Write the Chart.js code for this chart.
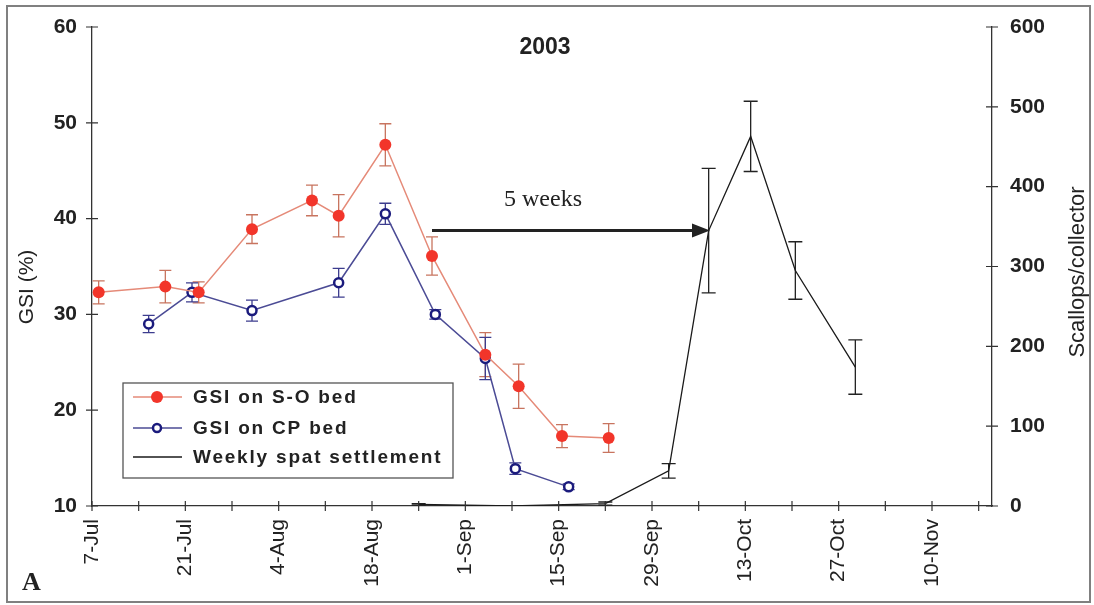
<!DOCTYPE html>
<html>
<head>
<meta charset="utf-8">
<script src="https://cdn.jsdelivr.net/npm/chart.js@4.4.1/dist/chart.umd.min.js"></script>
<style>
  html, body { margin: 0; padding: 0; background: #fff; }
  #wrap { width: 1094px; height: 605px; }
</style>
</head>
<body>
<div id="wrap"><canvas id="myChart"></canvas></div>
<script>
// x values are days counted from 7-Jul (2003)
const dateLabels = ['7-Jul', '21-Jul', '4-Aug', '18-Aug', '1-Sep', '15-Sep', '29-Sep', '13-Oct', '27-Oct', '10-Nov'];

const soDays = [1, 11, 16, 24, 33, 37, 44, 51, 59, 64, 70.5, 77.5];
const soGSI  = [32.3, 32.9, 32.3, 38.9, 41.9, 40.3, 47.7, 36.1, 25.8, 22.5, 17.3, 17.1];
const soErr  = [1.2, 1.7, 1.1, 1.5, 1.6, 2.2, 2.2, 2.0, 2.3, 2.3, 1.2, 1.5];

const cpDays = [8.5, 15, 24, 37, 44, 51.5, 59, 63.5, 71.5];
const cpGSI  = [29.0, 32.3, 30.4, 33.3, 40.5, 30.0, 25.4, 13.9, 12.0];
const cpErr  = [0.9, 1.0, 1.1, 1.5, 1.1, 0.5, 2.2, 0.6, 0.3];

const spatDays  = [49, 63, 77, 86.5, 92.5, 98.8, 105.5, 114.5];
const spatCount = [2, 0, 3, 44, 345, 463, 295, 174];
const spatErr   = [1, 0, 2, 9, 78, 44, 36, 34];

const toPoints = (xs, ys) => xs.map((x, i) => ({ x: x, y: ys[i] }));

Chart.defaults.font.family = "'Liberation Sans', Arial, sans-serif";
Chart.defaults.color = '#222';

// error bars drawn under the markers
const errorBars = {
  id: 'errorBars',
  beforeDatasetsDraw(chart) {
    const ctx = chart.ctx;
    chart.data.datasets.forEach((ds, i) => {
      const meta = chart.getDatasetMeta(i);
      const ys = chart.scales[ds.yAxisID];
      ctx.save();
      ctx.strokeStyle = ds.errColor;
      ctx.lineWidth = 1.3;
      ds.data.forEach((pt, j) => {
        const e = ds.errors[j];
        if (!e) return;
        const x = meta.data[j].x;
        const y1 = ys.getPixelForValue(pt.y + e);
        const y2 = ys.getPixelForValue(pt.y - e);
        const w = ds.capWidth;
        ctx.beginPath();
        ctx.moveTo(x, y1); ctx.lineTo(x, y2);
        ctx.moveTo(x - w, y1); ctx.lineTo(x + w, y1);
        ctx.moveTo(x - w, y2); ctx.lineTo(x + w, y2);
        ctx.stroke();
      });
      ctx.restore();
    });
  }
};

// tick marks that cross the axis lines
const crossTicks = {
  id: 'crossTicks',
  afterDraw(chart) {
    const ctx = chart.ctx;
    const { x, y, y2 } = chart.scales;
    ctx.save();
    ctx.strokeStyle = '#333';
    ctx.lineWidth = 1.2;
    ctx.beginPath();
    for (let d = 0; d <= 133; d += 7) {
      const px = x.getPixelForValue(d);
      ctx.moveTo(px, y.bottom - 5); ctx.lineTo(px, y.bottom + 5);
    }
    for (let v = 10; v <= 60; v += 10) {
      const py = y.getPixelForValue(v);
      ctx.moveTo(y.right - 6, py); ctx.lineTo(y.right + 6, py);
    }
    for (let v = 0; v <= 600; v += 100) {
      const py = y2.getPixelForValue(v);
      ctx.moveTo(y2.left - 6, py); ctx.lineTo(y2.left + 6, py);
    }
    ctx.stroke();
    ctx.restore();
  }
};

// titles, arrow note, legend box and frame
const extras = {
  id: 'extras',
  afterDraw(chart) {
    const ctx = chart.ctx;
    const { x, y } = chart.scales;
    ctx.save();
    ctx.fillStyle = '#222';
    ctx.textAlign = 'center';
    ctx.textBaseline = 'middle';

    ctx.font = "bold 23px 'Liberation Sans', Arial";
    ctx.fillText('2003', 545, 48);

    ctx.font = "21px 'Liberation Sans', Arial";
    ctx.save(); ctx.translate(27, 287); ctx.rotate(-Math.PI / 2);
    ctx.fillText('GSI (%)', 0, 0); ctx.restore();
    ctx.font = "22px 'Liberation Sans', Arial";
    ctx.save(); ctx.translate(1078, 272); ctx.rotate(-Math.PI / 2);
    ctx.fillText('Scallops/collector', 0, 0); ctx.restore();

    // 5 weeks arrow
    const ax0 = x.getPixelForValue(51), ax1 = x.getPixelForValue(92.7);
    const ay = y.getPixelForValue(38.77);
    ctx.strokeStyle = '#222';
    ctx.lineWidth = 3;
    ctx.beginPath(); ctx.moveTo(ax0, ay); ctx.lineTo(ax1 - 14, ay); ctx.stroke();
    ctx.beginPath();
    ctx.moveTo(ax1, ay); ctx.lineTo(ax1 - 18, ay - 7); ctx.lineTo(ax1 - 18, ay + 7);
    ctx.closePath(); ctx.fill();
    ctx.font = "24px 'Liberation Serif', 'Times New Roman', serif";
    ctx.fillText('5 weeks', 543, 200);

    ctx.font = "bold 26px 'Liberation Serif', 'Times New Roman', serif";
    ctx.textAlign = 'left';
    ctx.textBaseline = 'alphabetic';
    ctx.fillText('A', 22, 590);

    // legend
    ctx.fillStyle = '#fff';
    ctx.fillRect(123, 383, 330, 95);
    ctx.strokeStyle = '#555';
    ctx.lineWidth = 1.3;
    ctx.strokeRect(123, 383, 330, 95);
    const rows = [
      { y: 397, text: 'GSI on S-O bed', line: '#e58a78', kind: 'dot' },
      { y: 428, text: 'GSI on CP bed', line: '#4b4b95', kind: 'ring' },
      { y: 457, text: 'Weekly spat settlement', line: '#1a1a1a', kind: 'none' }
    ];
    ctx.font = "bold 19px 'Liberation Sans', Arial";
    ctx.letterSpacing = '1.8px';
    ctx.textBaseline = 'middle';
    rows.forEach(r => {
      ctx.strokeStyle = r.line;
      ctx.lineWidth = 1.5;
      ctx.beginPath(); ctx.moveTo(133, r.y); ctx.lineTo(182, r.y); ctx.stroke();
      if (r.kind === 'dot') {
        ctx.fillStyle = '#f2352a';
        ctx.beginPath(); ctx.arc(157, r.y, 6, 0, Math.PI * 2); ctx.fill();
      } else if (r.kind === 'ring') {
        ctx.fillStyle = '#fff';
        ctx.strokeStyle = '#1b1b7d';
        ctx.lineWidth = 2.5;
        ctx.beginPath(); ctx.arc(157, r.y, 4, 0, Math.PI * 2); ctx.fill(); ctx.stroke();
      }
      ctx.fillStyle = '#222';
      ctx.fillText(r.text, 193, r.y + 1);
    });
    ctx.letterSpacing = '0px';

    // outer frame
    ctx.strokeStyle = '#808080';
    ctx.lineWidth = 2;
    ctx.strokeRect(7, 6, 1083, 596);
    ctx.restore();
  }
};

const config = {
  type: 'line',
  data: {
    datasets: [
      {
        label: 'Weekly spat settlement',
        data: toPoints(spatDays, spatCount),
        errors: spatErr,
        errColor: '#222',
        capWidth: 7,
        yAxisID: 'y2',
        borderColor: '#1a1a1a',
        borderWidth: 1.3,
        pointRadius: 0,
        tension: 0
      },
      {
        label: 'GSI on S-O bed',
        data: toPoints(soDays, soGSI),
        errors: soErr,
        errColor: '#c8745f',
        capWidth: 6,
        yAxisID: 'y',
        borderColor: '#e58a78',
        borderWidth: 1.5,
        pointRadius: 6,
        pointBackgroundColor: '#f2352a',
        pointBorderColor: '#f2352a',
        pointBorderWidth: 0,
        tension: 0
      },
      {
        label: 'GSI on CP bed',
        data: toPoints(cpDays, cpGSI),
        errors: cpErr,
        errColor: '#3c3c8e',
        capWidth: 6,
        yAxisID: 'y',
        borderColor: '#4b4b95',
        borderWidth: 1.5,
        pointRadius: 4.5,
        pointBackgroundColor: '#fff',
        pointBorderColor: '#1b1b7d',
        pointBorderWidth: 2.5,
        tension: 0
      }
    ]
  },
  options: {
    responsive: true,
    maintainAspectRatio: false,
    animation: false,
    devicePixelRatio: 1,
    layout: { padding: { top: 27, left: 0, right: 0, bottom: 0 } },
    plugins: { legend: { display: false }, tooltip: { enabled: false } },
    scales: {
      x: {
        type: 'linear',
        min: 0,
        max: 135,
        afterFit: s => { s.height = 99; },
        grid: { display: false },
        border: { display: true, color: '#333', width: 1.3 },
        ticks: {
          stepSize: 7,
          autoSkip: false,
          minRotation: 90,
          maxRotation: 90,
          padding: 5,
          font: { size: 21 },
          color: '#222',
          callback: v => (v % 14 === 0 && v / 14 < dateLabels.length) ? dateLabels[v / 14] : ''
        }
      },
      y: {
        position: 'left',
        min: 10,
        max: 60,
        afterFit: s => { s.width = 92; },
        grid: { display: false },
        border: { display: true, color: '#333', width: 1.3 },
        ticks: { stepSize: 10, padding: 7, font: { size: 21, weight: 'bold' }, color: '#222' }
      },
      y2: {
        position: 'right',
        min: 0,
        max: 600,
        afterFit: s => { s.width = 102; },
        grid: { display: false },
        border: { display: true, color: '#333', width: 1.3 },
        ticks: { stepSize: 100, padding: 10, font: { size: 21, weight: 'bold' }, color: '#222' }
      }
    }
  },
  plugins: [errorBars, crossTicks, extras]
};

const myChart = new Chart(document.getElementById('myChart'), config);
</script>
</body>
</html>
